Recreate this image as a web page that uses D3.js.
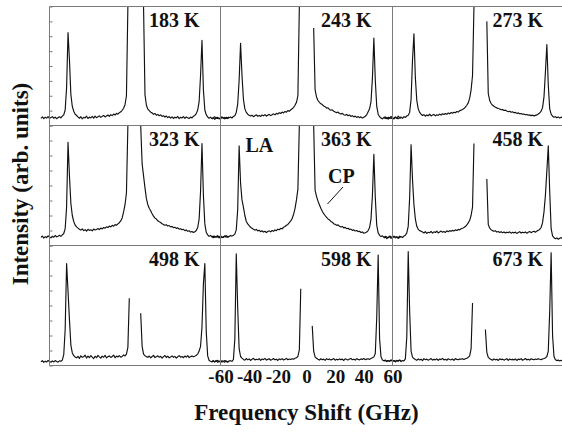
<!DOCTYPE html>
<html><head><meta charset="utf-8">
<script src="https://cdn.jsdelivr.net/npm/d3@7"></script>
<style>body{margin:0;background:#fff}svg{display:block}</style>
</head><body>
<svg id="c" width="562" height="432"></svg>
<script>
// ---------- data ----------
const temperatures = ["183 K","243 K","273 K","323 K","363 K","458 K","498 K","598 K","673 K"];
const xTicks = [-60,-40,-20,0,20,40,60];
// frequency (GHz) at which the truncated central (elastic) region starts / ends
const cutLeft  = [-5,-5,-3,-5,-5,-3,-4,-4,-4];
const cutRight = [ 6, 5, 6, 4, 5, 6, 4, 4, 5];
// intensity (arb. units, 0-100 of each row) every 1 GHz; L arrays end at cutLeft, R arrays start at cutRight
const s183L=[6.0,7.2,5.8,6.9,6.2,7.5,5.9,6.8,7.4,6.1,7.0,5.7,6.6,7.3,6.4,7.8,9,13,32,78,55,26,16,12,9.5,8.4,7.2,6.1,7.4,5.6,6.9,6.3,7.8,5.9,7.1,6.4,7.6,6.2,7.9,6.6,7.3,8.1,6.8,7.7,8.4,7.2,8.0,8.8,7.6,9.1,8.3,9.6,8.8,10.2,9.5,10.8,11.5,12.8,14.5,17.5,25,100];
const s183R=[100,26,17,13.8,12.5,11.2,10.6,9.4,10.1,8.7,9.3,8.2,8.9,7.6,8.3,7.1,7.9,6.6,7.5,6.2,7.3,5.9,7.0,6.4,7.6,5.8,6.9,6.3,7.4,6.0,7.2,6.5,5.9,7.1,6.4,7.8,8.5,10,13,20,42,71.5,30,13,9,7.2,6.1,7.0,5.8,6.7,7.3,6.0,6.9,5.6,6.5,7.1,6.2,6.8,5.9,6.6,7.2];
const s243L=[5.5,6.4,5.1,6.8,5.9,6.2,5.3,7.0,6.1,5.6,6.9,5.8,6.5,7.2,6.3,7.6,8.2,11,18,38,69,42,22,14,11,9.5,8.6,7.9,8.6,7.4,8.2,9.0,7.8,8.5,7.6,8.8,8.1,9.2,7.9,8.7,9.4,8.3,9.1,9.8,8.9,10.2,9.6,10.8,10.1,11.3,10.6,11.8,11.2,12.5,12.0,13.2,14.0,15.3,17.0,19.5,25.0,100];
const s243R=[82,30,24,21,19.5,18.2,17.6,16.4,15.8,14.6,14.9,13.5,12.8,13.2,11.9,11.4,10.8,11.3,10.1,9.6,10.2,9.1,8.7,9.3,8.2,8.8,7.6,8.3,7.2,7.9,6.8,7.5,6.6,7.3,6.2,7.0,7.8,9.0,11.5,14,20,40,73.5,38,16,9.5,7.4,6.2,5.6,6.9,5.8,6.5,5.3,6.7,5.9,6.4,5.5,6.8,6.0,5.7,6.6,6.1];
const s273L=[6.4,7.3,5.8,6.9,6.1,7.6,6.5,5.9,7.2,6.3,7.8,6.6,7.1,6.0,7.4,6.8,8.0,8.6,11,22,55,77,40,21,14,11,9.6,8.4,9.1,7.8,8.9,8.2,9.5,8.0,8.8,9.3,8.1,9.0,8.5,9.6,8.7,9.9,9.2,10.1,9.4,10.5,9.8,10.9,10.3,11.2,10.7,11.8,11.3,12.4,12.9,13.5,14.2,15.4,17,19,23,30,42,100];
const s273R=[87.5,27,21,18.5,17,16.2,15.4,14.8,14.3,13.9,13.2,13.5,12.6,12.9,12.2,11.6,12.0,11.1,11.5,10.7,11.0,10.2,10.6,9.8,10.1,9.4,9.7,9.0,9.3,8.6,8.9,8.3,8.7,8.1,8.5,8.9,9.6,10.5,12,15,24,45,68,34,14,9.5,7.8,6.9,7.4,6.5,7.2,6.2,7.0,6.6,7.5,6.3,7.1,6.8,6.0,7.3,6.7];
const s323L=[6.8,7.9,6.2,7.4,6.6,8.1,7.0,6.4,7.7,6.9,8.3,7.2,7.8,8.5,7.6,8.8,10,14,32,86,58,35,25,20,17,15.5,14.5,13.6,12.8,13.9,12.4,13.2,12.0,13.5,12.6,13.1,12.2,13.7,12.9,13.4,14.1,13.3,14.5,13.8,15.0,14.4,15.6,14.9,16.2,15.5,16.8,16.1,17.4,16.9,18.0,19.0,20.5,23,28,34,44,100];
const s323R=[100,68,58,48,39,34,31,29,26.5,24.5,22.8,22.0,20.6,19.8,19.2,18.1,17.4,16.9,17.3,16.2,16.6,15.5,15.9,14.8,15.2,14.3,14.7,13.6,14.0,13.1,13.5,12.4,12.9,11.8,12.3,11.2,11.7,10.8,11.5,12.5,15,22,45,85,42,18,11,8.8,7.6,8.4,7.1,7.9,6.8,7.5,8.2,7.0,7.7,6.5,7.3,8.0,6.9,7.6,7.2];
const s363L=[7.2,6.5,7.8,6.9,7.4,6.3,8.0,7.1,6.7,7.6,8.2,7.0,7.5,8.4,7.8,8.6,9.5,13,30,83,52,38,32,25,20,18,16.5,15.2,14.3,13.6,12.8,13.4,12.1,12.7,11.5,12.3,11.2,11.9,10.8,11.6,12.2,11.4,12.5,11.8,13.0,12.4,13.6,13.1,14.3,13.9,15.2,15.8,16.9,17.6,19.0,20.5,22.5,26,31,38,47,100];
const s363R=[100,46,41,37,34,31,28.5,26.5,25,23.5,22.2,21.3,20.1,19.4,18.2,17.6,16.8,17.2,16.0,15.4,15.9,14.7,15.1,14.0,14.4,13.3,13.7,12.6,13.0,12.1,12.5,11.6,11.9,10.8,11.3,10.2,10.6,11.2,12.4,15,22,42,76,40,17,10.5,8.5,7.4,8.1,6.8,7.6,7.0,6.5,7.9,7.2,6.6,7.7,6.9,7.3,6.4,7.8,7.1];
const s458L=[6.2,7.1,5.8,6.7,7.4,6.0,6.9,7.6,6.4,7.2,5.9,6.8,7.5,6.6,7.9,8.5,10.5,16,40,84,55,34,22,16,13.5,12.4,11.8,11.2,10.4,11.6,10.1,11.0,10.6,11.8,10.3,11.4,10.8,11.9,10.5,11.3,12.0,11.1,11.7,10.9,12.2,11.5,12.4,11.8,12.6,12.1,13.0,12.5,13.4,13.0,13.9,14.4,15.0,15.8,17.2,18.8,21,25,32,85];
const s458R=[55.5,17.5,14.5,13.2,12.4,11.8,12.3,11.2,11.7,10.9,11.5,10.6,11.3,10.4,11.1,10.7,11.4,10.3,11.0,10.5,11.2,10.1,10.8,11.5,10.4,11.1,10.6,11.3,10.2,11.0,11.6,10.7,11.4,11.9,11.1,12.0,12.6,13.4,15,19,28,42,62,83,45,14,8,6.5,5.6,6.3,5.2,6.0,6.6,5.4,6.2,5.8,5.1,6.4,5.7,6.1,5.5];
const s498L=[3.1,4.0,2.6,3.6,2.9,4.2,3.3,2.7,3.8,3.0,4.1,3.4,2.8,3.9,3.5,4.5,9,30,85,62,38,17,10.5,8.2,7.1,6.4,7.6,5.9,8.1,6.8,7.3,8.6,6.2,7.9,6.6,8.3,7.0,5.8,7.7,6.5,8.4,7.2,6.1,7.8,6.9,8.5,6.3,7.4,8.0,6.7,7.5,8.7,6.4,7.9,7.1,8.2,6.9,7.6,8.8,8.0,9.5,15,56];
const s498R=[43.5,16,9.5,8.2,7.4,6.8,7.9,6.3,7.5,8.4,6.6,7.2,8.1,6.9,7.7,6.1,7.4,8.3,6.7,7.8,6.4,7.1,8.0,6.8,7.6,6.2,7.3,8.2,6.9,7.5,6.5,7.9,7.0,8.3,6.6,7.4,8.0,7.2,7.8,8.6,9.5,12,16,32,68,85,28,8,4.2,3.5,2.9,3.8,3.2,4.1,2.7,3.6,3.0,3.9,3.3,2.8,3.7,3.1,3.5];
const s598L=[3.4,4.1,2.9,3.7,4.3,3.1,3.9,2.8,3.6,4.2,3.3,2.7,3.8,4.0,3.5,5,22,93,48,14,7.5,6.2,5.1,4.4,5.8,4.7,5.5,4.2,5.3,6.0,4.6,5.2,4.8,5.7,4.3,5.4,4.9,5.9,4.5,5.1,5.6,4.4,5.0,5.8,4.7,5.3,4.2,5.5,4.9,5.7,4.6,5.2,5.9,4.8,5.4,5.0,5.6,5.3,6.0,6.5,7.5,13,64];
const s598R=[33,12,7.2,6.0,5.2,4.5,5.6,4.8,5.3,4.3,5.7,4.9,5.4,4.6,5.1,5.8,4.4,5.2,4.7,5.5,4.9,5.3,4.2,5.6,5.0,4.6,5.4,5.9,4.8,5.2,4.5,5.7,5.1,4.7,5.5,5.0,5.8,4.9,5.3,5.6,5.1,5.9,6.4,7.2,10,40,92,22,7,4.6,3.9,4.3,3.6,4.1,3.4,4.4,3.8,4.2,3.5,4.0,3.7,4.3,3.9];
const s673L=[3.8,4.5,3.2,4.1,3.6,4.7,3.4,4.0,3.1,4.3,3.7,4.6,3.3,4.2,3.9,5.5,24,95,45,12,7,5.8,5.0,4.3,5.5,4.6,5.2,4.1,5.7,4.8,5.3,4.4,5.0,5.8,4.5,5.1,4.7,5.6,4.2,5.4,4.9,5.9,4.6,5.2,4.4,5.6,5.0,4.7,5.4,4.3,5.8,5.1,4.8,5.5,5.2,5.7,5.0,5.6,6.1,6.8,8,14,52];
const s673R=[30,11,6.8,5.7,5.1,4.4,5.5,4.7,5.2,4.2,5.6,4.9,5.3,4.5,5.0,5.7,4.3,5.4,4.8,5.1,4.6,5.5,4.2,5.3,4.9,5.6,4.4,5.0,5.8,4.7,5.2,4.5,5.6,5.1,4.8,5.4,5.0,5.7,5.2,4.9,5.5,5.8,6.3,7.5,12,45,94,25,7.5,4.8,4.1,4.5,3.8,4.3,3.6,4.6,4.0,4.4,3.7,4.2,3.9,4.5];
const leftSeg  = [s183L,s243L,s273L,s323L,s363L,s458L,s498L,s598L,s673L];
const rightSeg = [s183R,s243R,s273R,s323R,s363R,s458R,s498R,s598R,s673R];

// ---------- layout ----------
const svg = d3.select("#c");
const colEdges = [49.5, 220.5, 392.5, 564];
const rowEdges = [6.5, 125.5, 245.5, 365.5];
const serif = "'Liberation Serif','Times New Roman',Tinos,'DejaVu Serif',serif";
const frameColor = "#7a7a7a";

const defs = svg.append("defs");
[0,1,2].forEach(r => {
  defs.append("clipPath").attr("id","row"+r).append("rect")
    .attr("x",0).attr("width",562)
    .attr("y",rowEdges[r]).attr("height",rowEdges[r+1]-rowEdges[r]);
});

const panels = temperatures.map((t,i) => {
  const r = Math.floor(i/3), c = i%3;
  const x = d3.scaleLinear().domain([-60,60]).range([colEdges[c], colEdges[c+1]]);
  const y = d3.scaleLinear().domain([0,100]).range([rowEdges[r+1], rowEdges[r]]);
  const L = leftSeg[i].map((v,k,a) => ({f: cutLeft[i]-(a.length-1-k), v}));
  const R = rightSeg[i].map((v,k) => ({f: cutRight[i]+k, v}));
  return {t, r, c, x, y, L, R};
});

// y ticks on left edge of each row
panels.filter(p => p.c===0).forEach(p => {
  const g = svg.append("g").attr("transform",`translate(${colEdges[0]},0)`)
    .call(d3.axisLeft(p.y).tickValues(d3.range(0,100.1,12.5)).tickSize(-3).tickFormat(""));
  g.select(".domain").remove();
  g.selectAll("line").attr("stroke",frameColor);
});

// spectra
panels.forEach(p => {
  const line = d3.line().x(d => p.x(d.f)).y(d => p.y(d.v));
  const g = svg.append("g").attr("clip-path",`url(#row${p.r})`);
  [p.L, p.R].forEach(seg => {
    g.append("path").attr("d", line(seg)).attr("fill","none")
      .attr("stroke","#111").attr("stroke-width",1.15).attr("stroke-linejoin","round");
  });
});

// frame
const fr = svg.append("g").attr("stroke",frameColor).attr("stroke-width",1);
rowEdges.forEach(yy => fr.append("line").attr("x1",colEdges[0]).attr("x2",562).attr("y1",yy).attr("y2",yy));
colEdges.slice(0,3).forEach(xx => fr.append("line").attr("x1",xx).attr("x2",xx).attr("y1",rowEdges[0]).attr("y2",rowEdges[3]));

// temperature labels
panels.forEach(p => {
  svg.append("text").text(p.t)
    .attr("x", colEdges[p.c+1]-21).attr("y", rowEdges[p.r]+20.5)
    .attr("text-anchor","end").attr("font-family",serif).attr("font-weight","bold")
    .attr("font-size",20).attr("fill","#111");
});

// annotations in 363 K panel
svg.append("text").text("LA").attr("x",245.5).attr("y",151.5)
  .attr("font-family",serif).attr("font-weight","bold").attr("font-size",20).attr("fill","#111");
svg.append("text").text("CP").attr("x",328).attr("y",182.5)
  .attr("font-family",serif).attr("font-weight","bold").attr("font-size",20).attr("fill","#111");
svg.append("line").attr("x1",343).attr("y1",187).attr("x2",327.5).attr("y2",204)
  .attr("stroke","#111").attr("stroke-width",1);

// x axis under middle column
const xMid = panels[7].x;
const ax = svg.append("g").attr("transform",`translate(0,${rowEdges[3]})`)
  .call(d3.axisBottom(xMid).tickValues(xTicks).tickSize(0).tickPadding(4.5).tickFormat(d3.format("d")));
ax.select(".domain").remove();
ax.selectAll("text").attr("font-family",serif).attr("font-weight","bold")
  .attr("font-size",19).attr("fill","#111").text(d => String(d));

// axis titles
svg.append("text").text("Frequency Shift (GHz)")
  .attr("x",306.5).attr("y",420).attr("text-anchor","middle")
  .attr("font-family",serif).attr("font-weight","bold").attr("font-size",23).attr("fill","#111");
svg.append("text").text("Intensity (arb. units)")
  .attr("transform","translate(28,184) rotate(-90)").attr("text-anchor","middle")
  .attr("font-family",serif).attr("font-weight","bold").attr("font-size",23).attr("fill","#111");
</script>
</body></html>
